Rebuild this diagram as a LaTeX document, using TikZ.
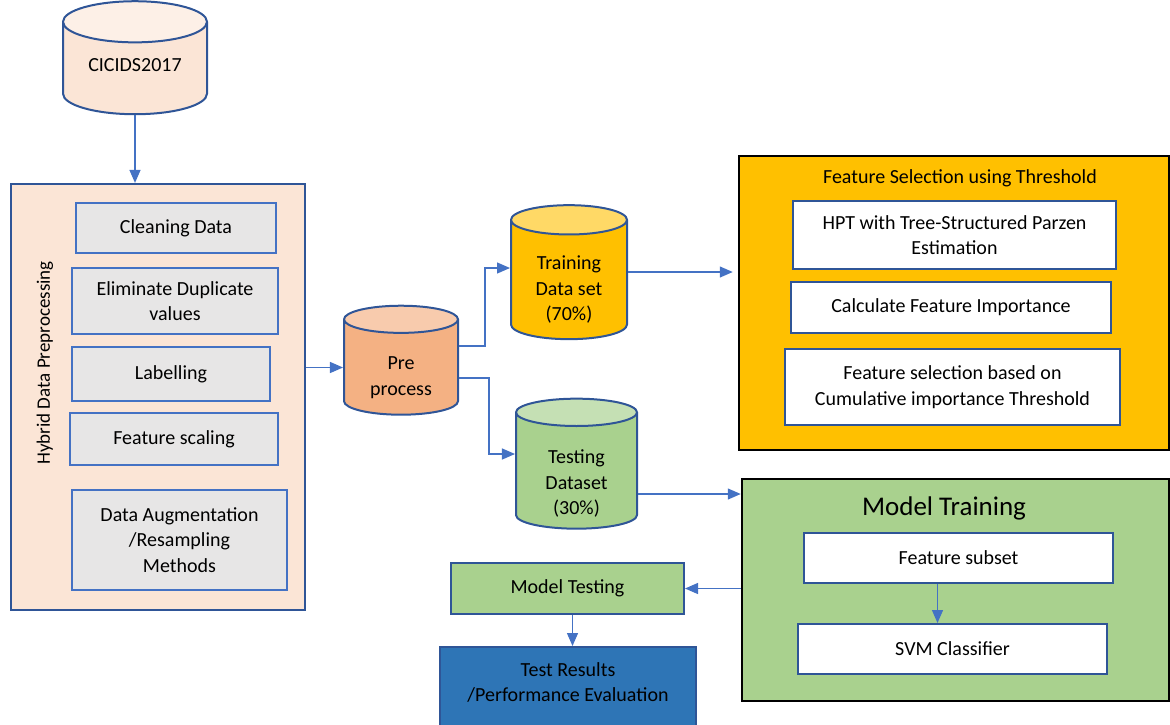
\documentclass[tikz,border=0pt]{standalone}
\usepackage{fontspec}
\setmainfont{Carlito}
\usetikzlibrary{shapes.geometric,arrows.meta}
\definecolor{peach}{HTML}{FBE5D6}
\definecolor{peachtop}{HTML}{FDF0E7}
\definecolor{boxgrey}{HTML}{E7E6E6}
\definecolor{bordblue}{HTML}{2F5597}
\definecolor{midblue}{HTML}{4472C4}
\definecolor{salmon}{HTML}{F4B183}
\definecolor{salmontop}{HTML}{F8CBAD}
\definecolor{gold}{HTML}{FFC000}
\definecolor{goldtop}{HTML}{FFD966}
\definecolor{leaf}{HTML}{A9D18E}
\definecolor{leaftop}{HTML}{C5E0B4}
\definecolor{steel}{HTML}{2E75B6}
% text in a cylinder, moved down by #1
\newcommand{\dbtext}[2]{\raisebox{-#1}[\height][\depth]{\begin{tabular}{@{}c@{}}#2\end{tabular}}}

\begin{document}
\begin{tikzpicture}[x=1pt,y=-1pt,>={Triangle[length=13pt,width=11pt]},
  font=\fontsize{20}{25.5}\selectfont,
  db/.style={cylinder,shape border rotate=90,shape aspect=0.44,draw=bordblue,line width=2pt,
    cylinder uses custom fill,inner sep=0pt,align=center},
  greybox/.style={rectangle,draw=midblue,line width=1.5pt,fill=boxgrey,inner sep=0pt,align=center},
  whitebox/.style={rectangle,draw=bordblue,line width=2pt,fill=white,inner sep=0pt,align=center},
  bigbox/.style={rectangle,draw=black,line width=2.5pt,inner sep=0pt},
  flow/.style={->,draw=midblue,line width=1.3pt}]

\useasboundingbox (0,0) rectangle (1170,724);

%% data source
\node[db,cylinder body fill=peach,cylinder end fill=peachtop,minimum width=144pt,minimum height=113pt] (cic) at (135,68.5) {\dbtext{-2pt}{CICIDS2017}};

%% preprocessing block
\node[rectangle,draw=bordblue,line width=2.2pt,fill=peach,minimum width=294pt,minimum height=426pt] (hyb) at (158,397) {};
\node[rotate=90,font=\fontsize{19}{23}\selectfont] (hyb_t) at (45,363) {Hybrid Data Preprocessing};
\draw[flow] (cic.south) -- (cic.south |- hyb.north);

\node[greybox,minimum width=200pt,minimum height=50pt] (clean) at (176,228) {Cleaning Data};
\node[greybox,minimum width=206pt,minimum height=66pt] (elim) at (175,301) {Eliminate Duplicate\\values};
\node[greybox,minimum width=198pt,minimum height=54pt] (label) at (171,374) {Labelling};
\node[greybox,minimum width=208pt,minimum height=52pt] (scale) at (174,439) {Feature scaling};
\node[greybox,minimum width=215pt,minimum height=100pt] (augm) at (179.5,540) {Data Augmentation\\/Resampling\\Methods};

%% split
\node[db,cylinder body fill=salmon,cylinder end fill=salmontop,minimum width=114pt,minimum height=109pt] (pre) at (401,367.5) {\dbtext{10pt}{Pre\\process}};
\draw[flow] (hyb.east |- pre.west) -- (pre.west);

\node[db,cylinder body fill=gold,cylinder end fill=goldtop,minimum width=116pt,minimum height=134pt] (train) at (569,280) {\dbtext{10pt}{Training\\Data set\\(70\%)}};
\node[db,cylinder body fill=leaf,cylinder end fill=leaftop,minimum width=121pt,minimum height=130pt] (test) at (576.5,471) {\dbtext{13pt}{Testing\\Dataset\\(30\%)}};
\draw[flow] ([yshift=21.5pt]pre.east) -- ++(26,0) |- ([yshift=12pt]train.west);
\draw[flow] ([yshift=-10.5pt]pre.east) -- ++(30,0) |- ([yshift=17pt]test.west);

%% feature selection
\node[bigbox,fill=gold,minimum width=430pt,minimum height=294pt] (fs) at (954,303) {};
\node (fs_t) at (960,178) {Feature Selection using Threshold};
\node[whitebox,minimum width=323pt,minimum height=68pt] (hpt) at (954.5,235) {HPT with Tree-Structured Parzen\\Estimation};
\node[whitebox,minimum width=320pt,minimum height=51pt] (calc) at (951,307.5) {Calculate Feature Importance};
\node[whitebox,minimum width=335pt,minimum height=76pt] (cumul) at (952.5,387) {Feature selection based on\\Cumulative importance Threshold};
\draw[flow,shorten >=5pt] ([yshift=8pt]train.east) -- ([yshift=8pt]train.east -| fs.west);

%% training
\node[bigbox,fill=leaf,minimum width=427pt,minimum height=222pt] (mt) at (955.5,590) {};
\node[font=\fontsize{27}{32}\selectfont] (mt_t) at (944,508) {Model Training};
\node[whitebox,minimum width=309pt,minimum height=50pt] (fsub) at (958.5,558) {Feature subset};
\node[whitebox,minimum width=309pt,minimum height=50pt] (svm) at (952.5,649) {SVM Classifier};
\draw[flow] ([xshift=-21pt]fsub.south) -- ([xshift=-21pt]fsub.south |- svm.north);
\draw[flow] ([yshift=-23pt]test.east) -- ([yshift=-23pt]test.east -| mt.west);

%% testing
\node[rectangle,draw=bordblue,line width=2pt,fill=leaf,minimum width=233pt,minimum height=51pt,inner sep=0pt] (mtest) at (567.5,588.5) {Model Testing};
\draw[flow] (mt.west |- mtest.east) -- (mtest.east);
\node[rectangle,draw=bordblue,line width=2pt,fill=steel,minimum width=256pt,minimum height=83pt] (res) at (568,688.5) {};
\node[align=center] (res_t) at (568,682.5) {Test Results\\/Performance Evaluation};
\draw[flow] ([xshift=5pt]mtest.south) -- ([xshift=5pt]mtest.south |- res.north);
\end{tikzpicture}
\end{document}
